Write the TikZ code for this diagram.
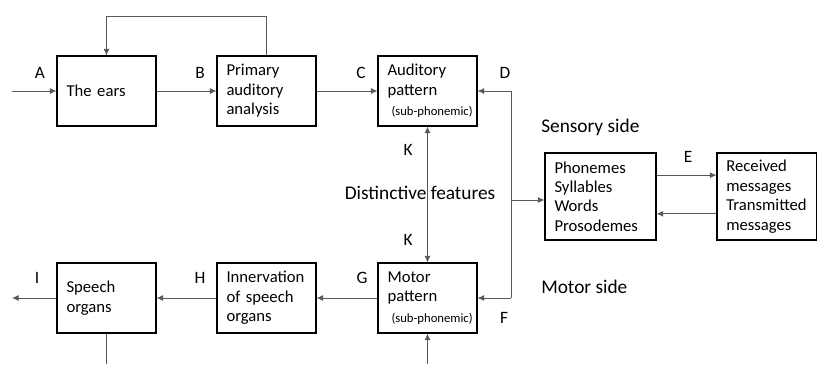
\documentclass[tikz,border=0pt]{standalone}
\usepackage{fontspec}
\setmainfont{Carlito}
\usetikzlibrary{arrows.meta,calc}

\tikzset{
  box/.style={draw, line width=0.8pt, minimum width=74.25pt, minimum height=52.5pt,
    text width=60pt, inner xsep=7pt, align=left, font=\fontsize{12.5pt}{14.6pt}\selectfont},
  bigbox/.style={box, minimum height=65.25pt},
  conn/.style={draw=black!65, line width=0.6pt, -{Latex[length=5pt,width=4.5pt]}},
  line/.style={draw=black!65, line width=0.6pt},
  lbl/.style={font=\fontsize{13pt}{15pt}\selectfont, inner sep=0pt},
  caption/.style={font=\fontsize{14.5pt}{17pt}\selectfont, inner sep=0pt}
}
\newcommand{\subph}{\mbox{\hspace*{3pt}\fontsize{9.5pt}{11pt}\selectfont(sub-phonemic)}}

\begin{document}
\begin{tikzpicture}[x=0.75pt, y=-0.75pt]
    \useasboundingbox (0,0) rectangle (817,364);

    % Upper row: sensory side
    \node[box] (ears) at (106.5,91) {The ears};
    \node[box] (primary) at (266.5,91) {Primary\\auditory\\analysis};
    \node[box] (auditory) at (427.5,91) {Auditory\\pattern\\[1pt]\subph};

    % Lower row: motor side
    \node[box] (speech) at (106.5,298) {Speech\\organs};
    \node[box] (innerv) at (266.5,298) {Innervation\\of speech\\organs};
    \node[box] (motor) at (427.5,298) {Motor\\pattern\\[1pt]\subph};

    % Right-hand boxes
    \node[bigbox, minimum width=83.25pt, text width=69pt] (phon) at (600.5,196.5) {Phonemes\\Syllables\\Words\\Prosodemes};
    \node[bigbox, minimum width=75pt, text width=61pt] (recv) at (767,196.5) {Received\\messages\\Transmitted\\messages};

    % Letters
    \node[lbl] (lblA) at (40,73) {A};
    \node[lbl] (lblB) at (200,73) {B};
    \node[lbl] (lblC) at (361,73) {C};
    \node[lbl] (lblD) at (505,73) {D};
    \node[lbl] (lblE) at (688,157) {E};
    \node[lbl] (lblF) at (504,318) {F};
    \node[lbl] (lblG) at (362,278) {G};
    \node[lbl] (lblH) at (200,278) {H};
    \node[lbl] (lblI) at (37,278) {I};
    \node[lbl] (lblK1) at (408,150) {K};
    \node[lbl] (lblK2) at (408,240) {K};

    % Side captions
    \node[caption, anchor=west] (sensory) at (541,127) {Sensory side};
    \node[caption, anchor=west] (motside) at (541,287) {Motor side};
    \node[caption] (distinct) at (420,193) {Distinctive features};

    % Free ends
    \coordinate (in) at (12,91);
    \coordinate (out) at (12,298);
    \coordinate (busTop) at (511,91);
    \coordinate (busMid) at (511,200);
    \coordinate (busBot) at (511,298);
    \coordinate (downS) at (106.5,364);
    \coordinate (downM) at (427.5,364);

    % Upper chain with feedback
    \draw[conn] (in) -- (ears);
    \draw[conn] (ears) -- (primary);
    \draw[conn] (primary) -- (auditory);
    \draw[conn] (primary.north) -- ++(0,-39) -| (ears.north);

    % Distinctive features link
    \draw[conn, {Latex[length=5pt,width=4.5pt]}-{Latex[length=5pt,width=4.5pt]}] (auditory) -- (motor);

    % Bus on the right
    \draw[line] (busTop) -- (busBot);
    \draw[conn] (busTop) -- (auditory);
    \draw[conn] (busBot) -- (motor);
    \draw[conn] (busMid) -- (busMid -| phon.west);

    % Messages
    \draw[conn] ([yshift=16pt]phon.east) -- ([yshift=16pt]recv.west);
    \draw[conn] ([yshift=-13pt]recv.west) -- ([yshift=-13pt]phon.east);

    % Lower chain
    \draw[conn] (motor) -- (innerv);
    \draw[conn] (innerv) -- (speech);
    \draw[conn] (speech) -- (out);
    \draw[line] (speech.south) -- (downS);
    \draw[conn] (downM) -- (motor.south);
\end{tikzpicture}
\end{document}
